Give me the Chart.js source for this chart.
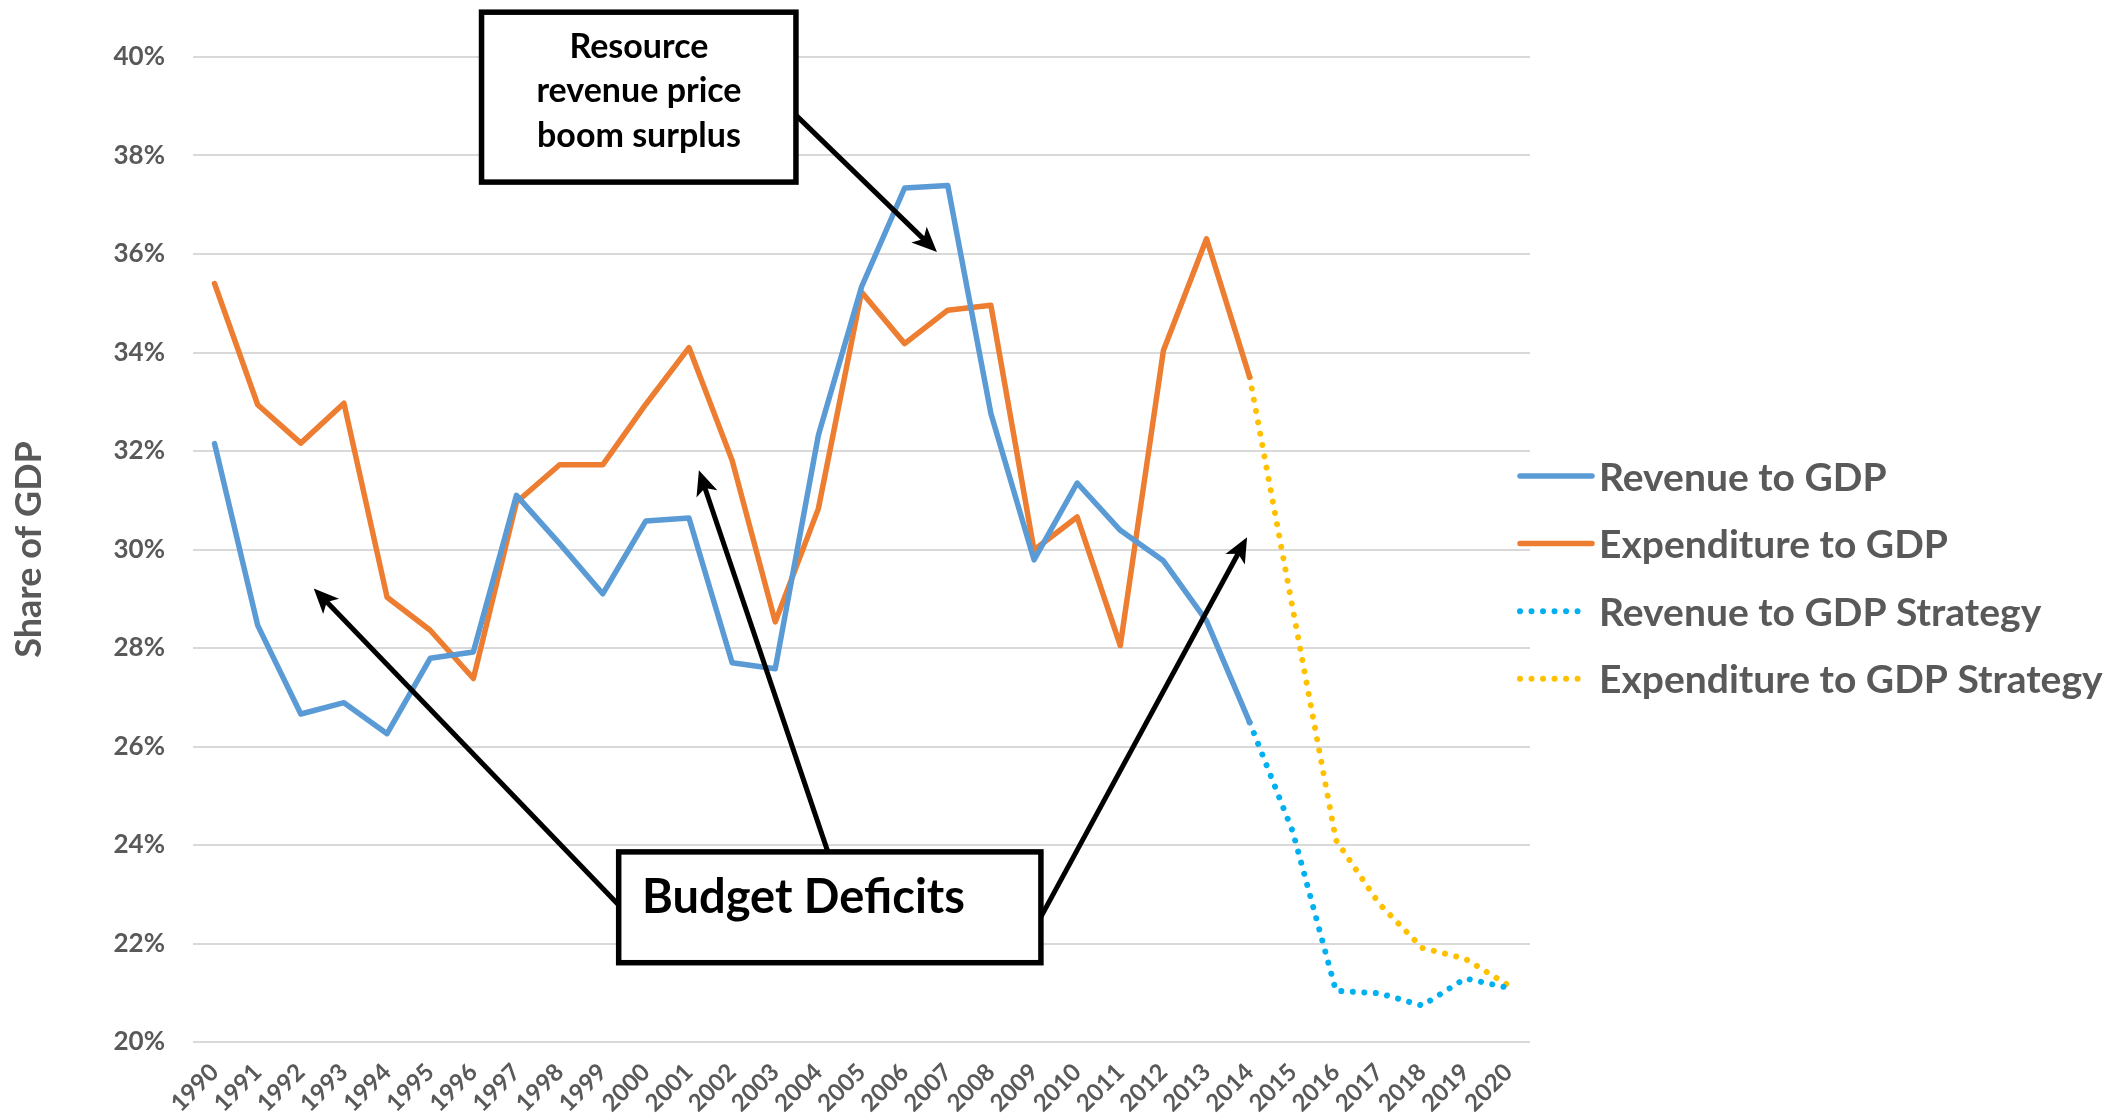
<!DOCTYPE html>
<html>
<head>
<meta charset="utf-8">
<script src="https://cdn.jsdelivr.net/npm/chart.js@4.4.1/dist/chart.umd.min.js"></script>
<style>
  html, body { margin: 0; padding: 0; background: #fff; }
  canvas { display: block; }
</style>
</head>
<body>
<canvas id="chart" width="2109" height="1113"></canvas>
<script>
// categories
const years = ['1990', '1991', '1992', '1993', '1994', '1995', '1996', '1997', '1998', '1999',
  '2000', '2001', '2002', '2003', '2004', '2005', '2006', '2007', '2008', '2009',
  '2010', '2011', '2012', '2013', '2014', '2015', '2016', '2017', '2018', '2019', '2020'];

// series (% of GDP)
const revenue = [32.15, 28.46, 26.66, 26.89, 26.26, 27.79, 27.92, 31.10, 30.12, 29.10,
  30.58, 30.64, 27.70, 27.58, 32.32, 35.33, 37.34, 37.39, 32.76, 29.79,
  31.35, 30.39, 29.77, 28.55, 26.49, null, null, null, null, null, null];
const expenditure = [35.40, 32.94, 32.16, 32.97, 29.03, 28.36, 27.38, 30.96, 31.72, 31.72,
  32.95, 34.10, 31.81, 28.53, 30.83, 35.23, 34.18, 34.86, 34.96, 29.99,
  30.66, 28.05, 34.04, 36.31, 33.50, null, null, null, null, null, null];
const revenueStrategy = [null, null, null, null, null, null, null, null, null, null,
  null, null, null, null, null, null, null, null, null, null,
  null, null, null, null, 26.49, 24.27, 21.04, 20.99, 20.74, 21.29, 21.10];
const expenditureStrategy = [null, null, null, null, null, null, null, null, null, null,
  null, null, null, null, null, null, null, null, null, null,
  null, null, null, null, 33.50, 28.79, 24.10, 22.81, 21.91, 21.69, 21.15];

// y ticks
const yMin = 20;
const yMax = 40;
const yStep = 2;

const GREY = '#595959';
const FONT = "Lato, 'Open Sans', sans-serif";
Chart.defaults.font.family = FONT;

// callouts, placed in data units (category index, percent)
const callouts = [
  { lines: ['Resource', 'revenue price', 'boom surplus'], size: 34, align: 'center',
    box: [6.19, 40.91, 13.48, 37.46], text: [9.84, [39.97, 39.08, 38.17]],
    arrows: [[13.43, 38.86, 16.75, 36.04]] },
  { lines: ['Budget Deficits'], size: 47, align: 'left',
    box: [9.37, 23.86, 19.16, 21.61], text: [9.91, [22.62]],
    arrows: [[9.37, 22.78, 2.30, 29.21], [14.22, 23.86, 11.23, 31.61], [19.16, 22.54, 23.94, 30.25]] }
];

function drawArrow(ctx, x0, y0, x1, y1) {
  const ang = Math.atan2(y1 - y0, x1 - x0);
  const len = 25, half = 11;
  ctx.beginPath();
  ctx.moveTo(x0, y0);
  ctx.lineTo(x1 - Math.cos(ang) * len * 0.7, y1 - Math.sin(ang) * len * 0.7);
  ctx.stroke();
  ctx.save();
  ctx.translate(x1, y1);
  ctx.rotate(ang);
  ctx.beginPath();
  ctx.moveTo(0, 0);
  ctx.lineTo(-len, -half);
  ctx.lineTo(-len * 0.75, 0);
  ctx.lineTo(-len, half);
  ctx.closePath();
  ctx.fill();
  ctx.restore();
}

const calloutPlugin = {
  id: 'callouts',
  afterDraw(c) {
    const ctx = c.ctx;
    const xs = c.scales.x, ys = c.scales.y;
    ctx.save();
    ctx.strokeStyle = '#000';
    ctx.fillStyle = '#000';
    ctx.lineCap = 'butt';
    callouts.forEach(co => {
      ctx.lineWidth = 5;
      co.arrows.forEach(a => drawArrow(ctx,
        xs.getPixelForValue(a[0]), ys.getPixelForValue(a[1]),
        xs.getPixelForValue(a[2]), ys.getPixelForValue(a[3])));
      const bx0 = xs.getPixelForValue(co.box[0]), by0 = ys.getPixelForValue(co.box[1]);
      const bx1 = xs.getPixelForValue(co.box[2]), by1 = ys.getPixelForValue(co.box[3]);
      ctx.fillStyle = '#fff';
      ctx.fillRect(bx0, by0, bx1 - bx0, by1 - by0);
      ctx.lineWidth = 5.5;
      ctx.lineJoin = 'miter';
      ctx.strokeRect(bx0, by0, bx1 - bx0, by1 - by0);
      ctx.fillStyle = '#000';
      ctx.font = 'bold ' + co.size + 'px ' + FONT;
      ctx.textAlign = co.align;
      ctx.textBaseline = 'alphabetic';
      const tx = xs.getPixelForValue(co.text[0]);
      co.lines.forEach((t, i) => ctx.fillText(t, tx, ys.getPixelForValue(co.text[1][i])));
    });
    ctx.restore();
  }
};

// legend drawn at the right, from the datasets themselves
const legendPlugin = {
  id: 'sideLegend',
  afterDraw(c) {
    const ctx = c.ctx;
    const x0 = c.chartArea.right - 10, x1 = x0 + 72, y0 = 476, gap = 67.6;
    ctx.save();
    ctx.font = 'bold 39px ' + FONT;
    ctx.textBaseline = 'middle';
    ctx.textAlign = 'left';
    c.data.datasets.forEach((ds, i) => {
      const y = y0 + i * gap;
      ctx.beginPath();
      ctx.strokeStyle = ds.borderColor;
      ctx.lineWidth = ds.borderWidth;
      ctx.lineCap = 'round';
      ctx.setLineDash(ds.borderDash || []);
      ctx.moveTo(x0, y);
      ctx.lineTo(ds.borderDash ? x1 - 8 : x1, y);
      ctx.stroke();
      ctx.setLineDash([]);
      ctx.fillStyle = GREY;
      ctx.fillText(ds.label, x1 + 7, y + 2);
    });
    ctx.restore();
  }
};

const dotted = [0.01, 11.5];

new Chart(document.getElementById('chart'), {
  type: 'line',
  data: {
    labels: years,
    datasets: [
      { label: 'Revenue to GDP', data: revenue, borderColor: '#5b9bd5', borderWidth: 5.5 },
      { label: 'Expenditure to GDP', data: expenditure, borderColor: '#ed7d31', borderWidth: 5.5 },
      { label: 'Revenue to GDP Strategy', data: revenueStrategy, borderColor: '#00b0f0', borderWidth: 6, borderDash: dotted },
      { label: 'Expenditure to GDP Strategy', data: expenditureStrategy, borderColor: '#ffc000', borderWidth: 6, borderDash: dotted }
    ].map(d => Object.assign({
      pointRadius: 0,
      pointHoverRadius: 0,
      tension: 0,
      fill: false,
      borderCapStyle: 'round',
      borderJoinStyle: 'round',
      spanGaps: false
    }, d))
  },
  options: {
    responsive: false,
    animation: false,
    devicePixelRatio: 1,
    layout: {
      padding: { left: 0, right: 579, top: 57, bottom: 0 }
    },
    scales: {
      x: {
        offset: true,
        grid: { display: false },
        border: { display: false },
        ticks: {
          autoSkip: false,
          maxRotation: 45,
          minRotation: 45,
          padding: 8,
          color: GREY,
          font: { size: 24, weight: 'bold' }
        },
        afterFit: s => { s.height = 71; }
      },
      y: {
        min: yMin,
        max: yMax,
        border: { display: false },
        grid: { color: '#d9d9d9', lineWidth: 2, drawTicks: false },
        ticks: {
          stepSize: yStep,
          padding: 28,
          color: GREY,
          font: { size: 26, weight: 'bold' },
          callback: v => v + '%'
        },
        title: {
          display: true,
          text: 'Share of GDP',
          color: GREY,
          font: { size: 36, weight: 'bold' },
          padding: { top: 8, bottom: 0 }
        },
        afterFit: s => { s.width = 193; }
      }
    },
    plugins: {
      legend: { display: false },
      tooltip: { enabled: false }
    }
  },
  plugins: [calloutPlugin, legendPlugin]
});
</script>
</body>
</html>
